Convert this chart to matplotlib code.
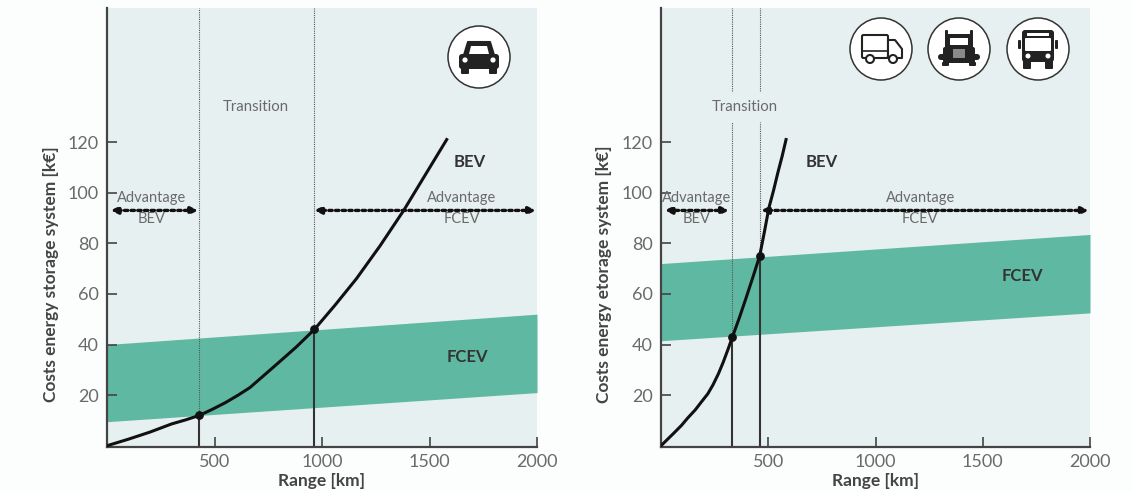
import matplotlib
matplotlib.use("Agg")
import matplotlib.pyplot as plt
from matplotlib.patches import Circle, FancyBboxPatch, Polygon

plt.rcParams['font.family'] = ['Lato', 'DejaVu Sans']

W, H = 1132, 491
PANEL = "#e7f0f0"
BAND = "#5fb9a2"
DARK = "#222222"
GREY = "#6a6a6a"

x_ticks = [500, 1000, 1500, 2000]
y_ticks = [20, 40, 60, 80, 100, 120]

car_range = [0, 50, 100, 150, 200, 250, 300, 365, 430, 490, 550, 610, 665, 730, 800, 880, 965,
             1060, 1160, 1270, 1380, 1480, 1580]
car_cost = [0, 1.3, 2.6, 4, 5.4, 7, 8.6, 10.2, 12, 14.4, 17, 20, 23, 27.8, 33, 39, 46,
            55.5, 66, 79, 93, 107, 121]
car_band_x = [0, 2000]
car_band_low = [9.5, 21]
car_band_high = [40, 52]
car_cross = [430, 965]
car_cross_cost = [12, 46]

truck_range = [0, 30, 60, 95, 125, 160, 190, 218, 242, 268, 290, 312, 333, 365, 395, 428, 460,
               482, 503, 525, 545, 565, 583]
truck_cost = [0, 2.5, 5, 8, 11, 14.2, 17.5, 20.5, 24, 28.5, 33, 38, 43, 50.5, 58, 66.5, 75,
              84.5, 94, 101, 108, 114.5, 121]
truck_band_x = [0, 2000]
truck_band_low = [41.5, 52.5]
truck_band_high = [72, 83.5]
truck_cross = [333, 460]
truck_cross_cost = [43, 75]


def draw_panel(ax, xs, ys, band_x, band_low, band_high, cross, cross_cost, ylabel, label_x):
    ax.set_facecolor(PANEL)
    ax.fill_between(band_x, band_low, band_high, color=BAND, lw=0, zorder=1)
    ax.plot(xs, ys, color="#111111", lw=2.2, solid_joinstyle="round", zorder=4)
    ax.scatter(cross, cross_cost, s=28, color="#111111", zorder=5)
    ax.vlines(cross, 0, cross_cost, color="#333333", lw=1.5, zorder=3)

    ax.set_xlim(0, 2000)
    ax.set_ylim(-0.5, 173)
    ax.set_xticks(x_ticks)
    ax.set_yticks(y_ticks)
    ax.tick_params(direction="in", length=7, width=1.2, color="#444444",
                   labelcolor=GREY, labelsize=13, pad=5)
    ax.tick_params(axis="y", pad=6)
    for s in ["top", "right"]:
        ax.spines[s].set_visible(False)
    for s in ["left", "bottom"]:
        ax.spines[s].set_linewidth(1.6)
        ax.spines[s].set_color("#444444")

    ax.set_xlabel("Range [km]", fontsize=12.5, fontweight="bold", color="#444444")
    ax.xaxis.set_label_coords(0.5, -0.059)
    ax.set_ylabel(ylabel, fontsize=12.5, fontweight="bold", color="#444444")
    ax.yaxis.set_label_coords(label_x, 0.394)


def advantage(ax, x0, x1, who, text_x):
    ax.annotate("", xy=(x0, 93), xytext=(x1, 93), zorder=4,
                arrowprops=dict(arrowstyle="<|-|>", ls=(0, (1, 1)), lw=2.4,
                                color="#111111", shrinkA=0, shrinkB=0, mutation_scale=10))
    ax.text(text_x, 98, "Advantage", ha="center", va="center", fontsize=10.5, color=GREY, zorder=5)
    ax.text(text_x, 89.5, who, ha="center", va="center", fontsize=10.5, color=GREY, zorder=5)


fig = plt.figure(figsize=(W / 100, H / 100), dpi=100, facecolor="#fcfdfd")

ax1 = fig.add_axes([107 / W, (H - 447) / H, 430 / W, 439 / H])
draw_panel(ax1, car_range, car_cost, car_band_x, car_band_low, car_band_high,
           car_cross, car_cross_cost, "Costs energy storage system [k€]", -0.112)
ax1.vlines(car_cross, car_cross_cost, 173, color="#555555", lw=0.8, ls=(0, (1, 1)), zorder=2)
advantage(ax1, 17, 424, "BEV", 209)
advantage(ax1, 964, 1995, "FCEV", 1650)
ax1.text(693, 134, "Transition", ha="center", va="center", fontsize=10.8, color=GREY)
ax1.text(1688, 112, "BEV", ha="center", va="center", fontsize=12, fontweight="bold", color="#333333")
ax1.text(1675, 35, "FCEV", ha="center", va="center", fontsize=12, fontweight="bold", color="#333333")

ax2 = fig.add_axes([661 / W, (H - 447) / H, 429 / W, 439 / H])
draw_panel(ax2, truck_range, truck_cost, truck_band_x, truck_band_low, truck_band_high,
           truck_cross, truck_cross_cost, "Costs energy etorage system [k€]", -0.114)
for c, low in zip(truck_cross, truck_cross_cost):
    ax2.vlines(c, low, 128, color="#555555", lw=0.8, ls=(0, (1, 1)), zorder=2)
    ax2.vlines(c, 140, 173, color="#555555", lw=0.8, ls=(0, (1, 1)), zorder=2)
advantage(ax2, 17, 317, "BEV", 167)
advantage(ax2, 466, 1994, "FCEV", 1208)
ax2.text(392, 134, "Transition", ha="center", va="center", fontsize=10.8, color=GREY)
ax2.text(750, 112, "BEV", ha="center", va="center", fontsize=12, fontweight="bold", color="#333333")
ax2.text(1684, 67, "FCEV", ha="center", va="center", fontsize=12, fontweight="bold", color="#333333")

# icons go on an overlay in pixel coordinates
ov = fig.add_axes([0, 0, 1, 1], zorder=10)
ov.set_xlim(0, W)
ov.set_ylim(H, 0)
ov.axis("off")


def rbox(x, y, w, h, r=2, fc=DARK, ec="none", lw=0):
    ov.add_patch(FancyBboxPatch((x, y), w, h, boxstyle=f"round,pad=0,rounding_size={r}",
                                fc=fc, ec=ec, lw=lw))


def badge(cx, cy):
    ov.add_patch(Circle((cx, cy), 31, fc="white", ec="#333333", lw=1.1))


def car_icon(cx, cy):
    badge(cx, cy)
    ov.add_patch(Polygon([(cx - 15, cy - 2), (cx - 11, cy - 15), (cx + 11, cy - 15), (cx + 15, cy - 2)],
                         fc=DARK, ec=DARK, lw=1.5, joinstyle="round"))
    ov.add_patch(Polygon([(cx - 10, cy - 3), (cx - 8, cy - 11), (cx + 8, cy - 11), (cx + 10, cy - 3)], fc="white"))
    rbox(cx - 20, cy - 3, 40, 15, r=3)
    rbox(cx - 18, cy + 10, 8, 7, r=1)
    rbox(cx + 10, cy + 10, 8, 7, r=1)
    ov.add_patch(Circle((cx - 14, cy + 3), 2.6, fc="white"))
    ov.add_patch(Circle((cx + 14, cy + 3), 2.6, fc="white"))


def van_icon(cx, cy):
    badge(cx, cy)
    rbox(cx - 19, cy - 14, 26, 23, r=1.5, fc="white", ec=DARK, lw=1.5)
    ov.add_patch(Polygon([(cx + 7, cy - 9), (cx + 14, cy - 9), (cx + 21, cy), (cx + 21, cy + 9), (cx + 7, cy + 9)],
                         fc="white", ec=DARK, lw=1.5, joinstyle="round"))
    ov.plot([cx - 19, cx + 7], [cy + 2, cy + 2], color=DARK, lw=1.2)
    ov.add_patch(Circle((cx - 11, cy + 10), 4, fc="white", ec=DARK, lw=1.5))
    ov.add_patch(Circle((cx + 12, cy + 10), 4, fc="white", ec=DARK, lw=1.5))


def truck_icon(cx, cy):
    badge(cx, cy)
    rbox(cx - 14, cy - 19, 3, 20, r=1)
    rbox(cx + 11, cy - 19, 3, 20, r=1)
    rbox(cx - 13, cy - 15, 26, 14, r=2)
    rbox(cx - 9, cy - 11, 18, 7, r=0.5, fc="white")
    rbox(cx - 16, cy - 2, 32, 16, r=2)
    rbox(cx - 21, cy + 5, 42, 6, r=3)
    rbox(cx - 6, cy, 12, 9, r=0.5, fc="#8a8a8a")
    rbox(cx - 17, cy + 13, 7, 4, r=1)
    rbox(cx + 10, cy + 13, 7, 4, r=1)


def bus_icon(cx, cy):
    badge(cx, cy)
    rbox(cx - 16, cy - 19, 32, 32, r=3)
    rbox(cx - 11, cy - 16, 22, 3, r=0.5, fc="white")
    rbox(cx - 13, cy - 11, 26, 13, r=1, fc="white")
    rbox(cx - 20, cy - 9, 3, 9, r=1)
    rbox(cx + 17, cy - 9, 3, 9, r=1)
    rbox(cx - 15, cy + 11, 8, 9, r=1)
    rbox(cx + 7, cy + 11, 8, 9, r=1)
    ov.add_patch(Circle((cx - 10, cy + 7), 2.5, fc="white"))
    ov.add_patch(Circle((cx + 10, cy + 7), 2.5, fc="white"))


car_icon(479, 57)
van_icon(881, 49)
truck_icon(959, 49)
bus_icon(1038, 49)

fig.savefig("out.png", dpi=100, facecolor=fig.get_facecolor())
